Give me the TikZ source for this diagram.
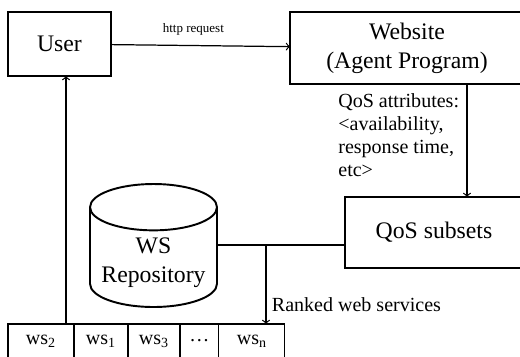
\documentclass[tikz,border=0pt]{standalone}
\usepackage{fontspec}
\setmainfont{Liberation Serif}
\usetikzlibrary{shapes.geometric, positioning}

\tikzset{
  box/.style={draw, line width=1.1pt, outer sep=0pt, align=center,
    font=\fontsize{13.5}{16.5}\selectfont},
  store/.style={cylinder, shape border rotate=90, draw, line width=1.1pt,
    aspect=0.4, minimum width=2.54cm, minimum height=2.46cm, outer sep=0pt,
    align=center, font=\fontsize{13.5}{16.5}\selectfont},
  cell/.style={draw, line width=0.6pt, outer sep=0pt, minimum height=0.68cm,
    font=\fontsize{11.4}{13}\selectfont},
  flow/.style={->, line width=0.7pt},
  tag/.style={font=\fontsize{11.4}{13.2}\selectfont, align=left, inner sep=0pt}
}

\begin{document}
\begin{tikzpicture}[x=0.02cm, y=-0.02cm]
  \useasboundingbox (0,0) rectangle (520,356);
  \clip (0,0) rectangle (520,356);

  \node[box, minimum width=2.06cm, minimum height=1.28cm] (user) at (59.5,44) {User};
  \node[box, minimum width=4.68cm, minimum height=1.44cm] (site) at (407,48) {Website\\(Agent Program)};
  \node[box, minimum width=3.56cm, minimum height=1.42cm] (qos) at (434,232.5) {QoS subsets};
  \node[store, anchor=shape center] (repo) at (153.5,245.5) {WS\\Repository};

  % ranked list
  \node[cell, minimum width=1.32cm] (ws2) at (41,341) {ws\textsubscript{2}};
  \node[cell, minimum width=1.08cm, right=0pt of ws2] (ws1) {ws\textsubscript{1}};
  \node[cell, minimum width=1.04cm, right=0pt of ws1] (ws3) {ws\textsubscript{3}};
  \node[cell, minimum width=0.78cm, right=0pt of ws3] (dots) {\ldots};
  \node[cell, minimum width=1.32cm, right=0pt of dots] (wsn) {ws\textsubscript{n}};

  \draw[flow] (user) -- (site) node[pos=0.46, above=2pt, font=\fontsize{7.4}{9}\selectfont] {http request};
  \draw[flow] ([xshift=1.2cm]site.south) -- ([xshift=1.2cm]site.south |- qos.north);
  \node[tag, anchor=west] (attr) at (338,135) {QoS attributes:\\<availability,\\response time,\\etc>};

  \coordinate (split) at (266,245);
  \draw[line width=0.7pt] (split -| repo.east) -- (split -| qos.west);
  \draw[flow] (split) -- (split |- wsn.north) node[pos=0.76, right=3pt, tag] {Ranked web services};
  \draw[flow] ([xshift=0.13cm]user.south |- ws2.north) -- ([xshift=0.13cm]user.south);
\end{tikzpicture}
\end{document}
